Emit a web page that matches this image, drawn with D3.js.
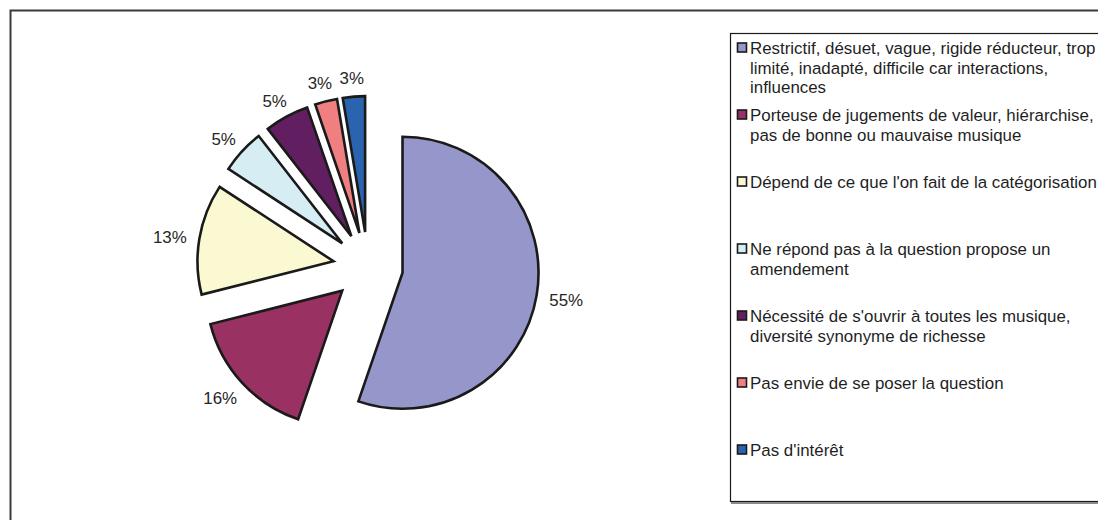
<!DOCTYPE html>
<html><head><meta charset="utf-8">
<script src="https://cdn.jsdelivr.net/npm/d3@7"></script>
<style>
html,body{margin:0;padding:0;background:#fff;}
svg{display:block;font-family:Arial,"Liberation Sans",sans-serif;}
</style></head>
<body>
<svg id="chart" width="1098" height="520"></svg>
<script>
const categories = [
  "Restrictif, désuet, vague, rigide réducteur, trop limité, inadapté, difficile car interactions, influences",
  "Porteuse de jugements de valeur, hiérarchise, pas de bonne ou mauvaise musique",
  "Dépend de ce que l'on fait de la catégorisation",
  "Ne répond pas à la question propose un amendement",
  "Nécessité de s'ouvrir à toutes les musique, diversité synonyme de richesse",
  "Pas envie de se poser la question",
  "Pas d'intérêt"
];
const counts = [21, 6, 5, 2, 2, 1, 1];
const percentLabels = ["55%", "16%", "13%", "5%", "5%", "3%", "3%"];
const colors = ["#9596c9", "#993162", "#fbf9d2", "#d5edf3", "#611f62", "#f07f82", "#2a64ae"];

const svg = d3.select("#chart");
const W = 1098, H = 520;
const fontSize = 16.9;

// outer chart frame
svg.append("rect").attr("x", 10.5).attr("y", 10.5).attr("width", W + 20).attr("height", H + 20)
  .attr("fill", "#fff").attr("stroke", "#3a3a3a").attr("stroke-width", 2);

// pie
const cx = 368, cy = 267, R = 136, explode = 35, labelR = 184;
const pie = d3.pie().sort(null).value(d => d)(counts);
const arc = d3.arc().innerRadius(0).outerRadius(R);
const g = svg.append("g").attr("transform", `translate(${cx},${cy})`);

pie.forEach((p, i) => {
  const mid = (p.startAngle + p.endAngle) / 2;
  const dx = Math.sin(mid), dy = -Math.cos(mid);
  g.append("path")
    .attr("d", arc(p))
    .attr("transform", `translate(${dx * explode},${dy * explode})`)
    .attr("fill", colors[i])
    .attr("stroke", "#1a1a1a")
    .attr("stroke-width", 2.6)
    .attr("stroke-linejoin", "miter");
  const t = g.append("text")
    .attr("text-anchor", "middle")
    .attr("dominant-baseline", "central")
    .attr("font-size", fontSize)
    .attr("fill", "#262626")
    .text(percentLabels[i]);
  const bw = t.node().getBBox().width / 2, bh = 7;
  t.attr("x", dx * labelR + dx * bw).attr("y", dy * labelR + dy * bh + 2);
});

// legend
const lg = svg.append("g");
lg.append("rect").attr("x", 730.5).attr("y", 33.5).attr("width", 420).attr("height", 468)
  .attr("fill", "#fff").attr("stroke", "#1a1a1a").attr("stroke-width", 1.2);
lg.append("line").attr("x1", 731).attr("x2", W + 10).attr("y1", 503).attr("y2", 503)
  .attr("stroke", "#8a8a8a").attr("stroke-width", 2);

const itemY = d3.scalePoint().domain(d3.range(categories.length)).range([48, 450]);
const maxW = 352, lineH = 19.5;

function wrap(textSel, str) {
  const words = str.split(" ");
  let line = [], lines = [];
  const probe = textSel.append("tspan");
  words.forEach(w => {
    const test = line.concat([w]).join(" ");
    probe.text(test);
    if (probe.node().getComputedTextLength() > maxW && line.length) {
      lines.push(line.join(" "));
      line = [w];
    } else line.push(w);
  });
  lines.push(line.join(" "));
  probe.remove();
  return lines;
}

categories.forEach((c, i) => {
  const y = itemY(i);
  lg.append("rect").attr("x", 737.5).attr("y", y - 5).attr("width", 9).attr("height", 9)
    .attr("fill", colors[i]).attr("stroke", "#1a1a1a").attr("stroke-width", 1.6);
  const t = lg.append("text").attr("font-size", fontSize).attr("fill", "#1f1f1f")
    .attr("dominant-baseline", "central");
  const lines = wrap(t, c);
  lines.forEach((l, k) => {
    t.append("tspan").attr("x", 750).attr("y", y + k * lineH).text(l);
  });
});
</script>
</body></html>
